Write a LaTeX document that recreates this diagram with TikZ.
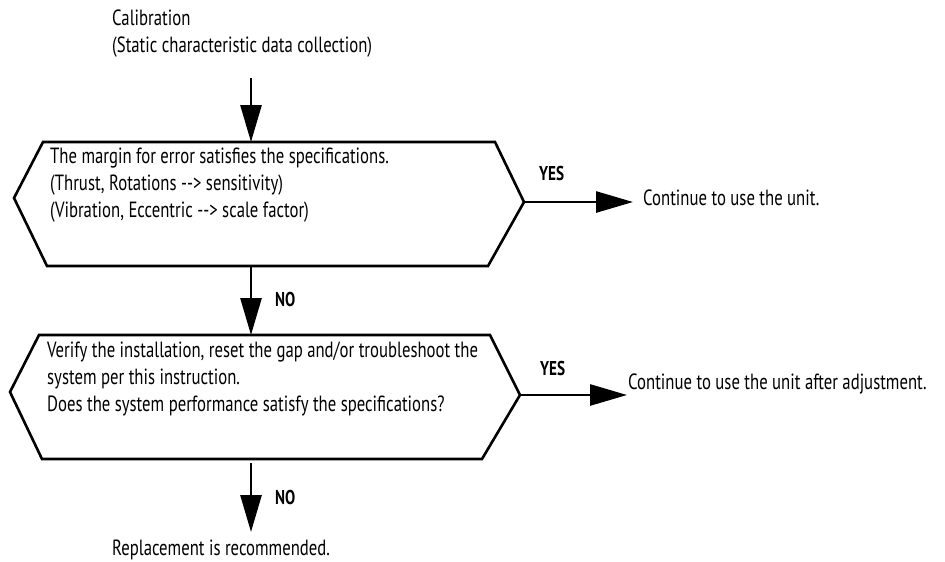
\documentclass[tikz,border=0pt]{standalone}
\usepackage{fontspec}
\setmainfont{PT Sans}[FakeStretch=0.76]
\usetikzlibrary{arrows.meta,positioning}

\begin{document}
\begin{tikzpicture}[x=1pt,y=-1pt,
    flow/.style={line width=2.8pt,-{Triangle[length=37pt,width=21pt]}},
    hexbox/.style={line width=2.6pt,line join=miter},
    txt/.style={anchor=west,inner sep=0pt,align=left,font=\fontsize{22}{27}\selectfont},
    ans/.style={anchor=west,inner sep=0pt,font=\fontsize{20}{27}\selectfont\bfseries}]
  \useasboundingbox (0,0) rectangle (945,562);

  % first check
  \coordinate (d1nw) at (43,142);  \coordinate (d1ne) at (495,142);
  \coordinate (d1e)  at (524,202); \coordinate (d1se) at (488,266);
  \coordinate (d1sw) at (47,266);  \coordinate (d1w)  at (14,198);
  \draw[hexbox] (d1nw) -- (d1ne) -- (d1e) -- (d1se) -- (d1sw) -- (d1w) -- cycle;
  \coordinate (d1n) at (251,142); \coordinate (d1s) at (251,266);

  % second check
  \coordinate (d2nw) at (39,335);  \coordinate (d2ne) at (490,335);
  \coordinate (d2e)  at (520,395); \coordinate (d2se) at (482,459);
  \coordinate (d2sw) at (42,459);  \coordinate (d2w)  at (10,392);
  \draw[hexbox] (d2nw) -- (d2ne) -- (d2e) -- (d2se) -- (d2sw) -- (d2w) -- cycle;
  \coordinate (d2n) at (251,335); \coordinate (d2s) at (251,463);

  % texts
  \node[txt] (calib) at (112,34) {Calibration\\(Static characteristic data collection)};
  \node[txt] (margin) at (50,185) {The margin for error satisfies the specifications.\\
    (Thrust, Rotations -{}-> sensitivity)\\(Vibration, Eccentric -{}-> scale factor)};
  \node[txt] (verify) at (47,379) {Verify the installation, reset the gap and/or troubleshoot the\\
    system per this instruction.\\Does the system performance satisfy the specifications?};
  \node[txt] (keep) at (643,198) {Continue to use the unit.};
  \node[txt] (adjust) at (628,384) {Continue to use the unit after adjustment.};
  \node[txt] (replace) at (112,550) {Replacement is recommended.};

  \node[ans] (yes1) at (539,173) {YES};
  \node[ans] (yes2) at (540,368) {YES};
  \node[ans] (no1) at (275,299) {NO};
  \node[ans] (no2) at (275,497) {NO};

  % connectors
  \coordinate (start) at (251,78);
  \coordinate (keeptip) at (633,202);
  \coordinate (adjtip) at (627,395);
  \coordinate (endtip) at (251,532);
  \draw[flow] (start) -- (d1n);
  \draw[flow] (d1s) -- (d2n);
  \draw[flow] (d2s) -- (endtip);
  \draw[flow] (d1e) -- (keeptip);
  \draw[flow] (d2e) -- (adjtip);
\end{tikzpicture}
\end{document}
